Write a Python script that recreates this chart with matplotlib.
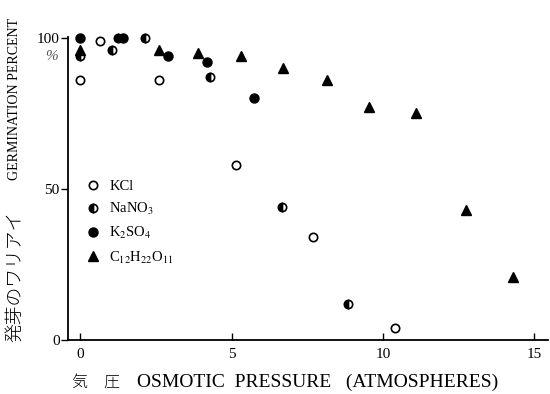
import matplotlib.pyplot as plt

plt.rcParams['mathtext.fontset'] = 'stix'

# osmotic pressure (atm) and germination percent
kcl_x = [0, 0.65, 2.6, 5.15, 7.7, 10.4]
kcl_y = [86, 99, 86, 58, 34, 4]

nano3_x = [0, 1.05, 1.25, 2.15, 4.3, 6.65, 8.85]
nano3_y = [94, 96, 100, 100, 87, 44, 12]

k2so4_x = [0, 1.4, 2.9, 4.2, 5.75]
k2so4_y = [100, 100, 94, 92, 80]

sucrose_x = [0, 2.6, 3.9, 5.3, 6.7, 8.15, 9.55, 11.1, 12.75, 14.3]
sucrose_y = [96, 96, 95, 94, 90, 86, 77, 75, 43, 21]

labels = ['KCl', r'NaNO$_3$', r'K$_2$SO$_4$', r'C$_{12}$H$_{22}$O$_{11}$']

serif = ['Liberation Serif', 'DejaVu Serif']
jp = ['Noto Sans CJK JP', 'DejaVu Sans']

fig = plt.figure(figsize=(5.5, 3.94), dpi=100)
ax = fig.add_axes([68 / 550, 1 - 340 / 394, 480 / 550, 303 / 394])

ms = 6
ax.plot(kcl_x, kcl_y, 'o', ms=ms, mfc='white', mec='black', mew=1.2, clip_on=False, label=labels[0])
ax.plot(nano3_x, nano3_y, 'o', ms=ms, fillstyle='left', mfc='black', mfcalt='white', mec='black',
        mew=1.2, clip_on=False, label=labels[1])
ax.plot(k2so4_x, k2so4_y, 'o', ms=ms + 0.5, color='black', clip_on=False, label=labels[2])
ax.plot(sucrose_x, sucrose_y, '^', ms=ms + 1, color='black', clip_on=False, label=labels[3])

ax.set_xlim(-0.4, 15.45)
ax.set_ylim(0, 100.3)
ax.set_xticks([0, 5, 10, 15])
ax.set_yticks([0, 50, 100])
for s in ['top', 'right']:
    ax.spines[s].set_visible(False)
for s in ['left', 'bottom']:
    ax.spines[s].set_linewidth(1.3)
ax.tick_params(axis='x', direction='in', length=5, width=1, pad=6)
ax.tick_params(axis='y', direction='out', length=5, width=1, pad=1)
for t in ax.get_xticklabels() + ax.get_yticklabels():
    t.set_family(serif)
    t.set_fontsize(11)

fig.text(51 / 550, 1 - 57 / 394, '%', family=serif, fontsize=11, color='#555555',
         style='italic', ha='center', va='center')

leg = ax.legend(loc='upper left', bbox_to_anchor=(86 / 550, 1 - 180 / 394),
                bbox_transform=fig.transFigure, frameon=False, numpoints=1,
                handlelength=1.0, handletextpad=0.6, borderpad=0, borderaxespad=0,
                labelspacing=0.55, prop={'family': serif, 'size': 10.5})

# axis titles
fig.text(15 / 550, 1 - 99 / 394, 'GERMINATION PERCENT', family=serif, fontsize=10,
         rotation=90, ha='center', va='center')
fig.text(15 / 550, 1 - 276 / 394, '発芽のワリアイ', family=jp, fontsize=13.5,
         rotation=90, ha='center', va='center', fontweight='light')
fig.text(72 / 550, 1 - 382 / 394, '気\u3000圧', family=jp, fontsize=11.5,
         ha='left', va='center', fontweight='light')
fig.text(137 / 550, 1 - 382 / 394, 'OSMOTIC  PRESSURE   (ATMOSPHERES)', family=serif,
         fontsize=14, ha='left', va='center')

fig.savefig('out.png', dpi=100)
